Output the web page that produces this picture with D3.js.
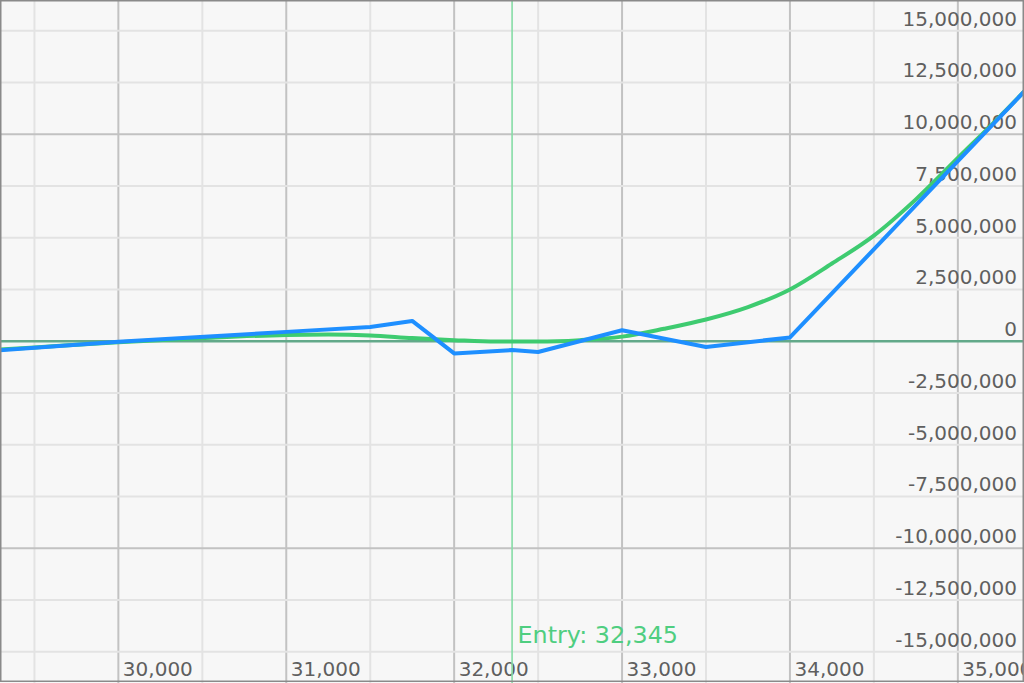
<!DOCTYPE html>
<html>
<head>
<meta charset="utf-8">
<script src="https://cdn.jsdelivr.net/npm/d3@7"></script>
<style>
html,body{margin:0;padding:0;background:#f7f7f7;overflow:hidden;}
svg{display:block;}
text{font-family:"DejaVu Sans",Verdana,sans-serif;}
</style>
</head>
<body>
<svg id="chart" width="1024" height="683"></svg>
<script>
// ---- data ----
const xTicks = [29500, 30000, 30500, 31000, 31500, 32000, 32500, 33000, 33500, 34000, 34500, 35000];
const xLabelTicks = [30000, 31000, 32000, 33000, 34000, 35000];
const yTicks = [-15000000, -12500000, -10000000, -7500000, -5000000, -2500000, 0, 2500000, 5000000, 7500000, 10000000, 12500000, 15000000];
const entryPrice = 32345;

// P&L at expiry (blue)
const expiryPrice = [29000, 30000, 31000, 31500, 31750, 32000, 32345, 32500, 33000, 33500, 34000, 35000, 35500];
const expiryPnl   = [-600000, -30000, 450000, 690000, 980000, -590000, -430000, -520000, 530000, -280000, 180000, 8700000, 12950000];

// current P&L (green)
const currentPrice = [29000, 29500, 30000, 30500, 31000, 31250, 31500, 31750, 32000, 32250, 32500, 32750, 33000, 33250, 33500, 33750, 34000, 34250, 34500, 34750, 35000, 35250, 35500];
const currentPnl   = [-550000, -300000, -50000, 150000, 300000, 320000, 280000, 150000, 50000, -20000, -20000, 50000, 220000, 600000, 1050000, 1650000, 2500000, 3750000, 5100000, 6850000, 8850000, 10850000, 12950000];

// ---- layout ----
const W = 1024, H = 683;
const svg = d3.select("#chart");
const x = d3.scaleLinear().domain([29295, 35394]).range([0, W]);
const y = d3.scaleLinear().domain([-16510000, 16480000]).range([H, 0]);

svg.append("rect").attr("width", W).attr("height", H).attr("fill", "#f7f7f7");

svg.append("clipPath").attr("id", "clip").append("rect").attr("width", W).attr("height", H);

// vertical grid
svg.append("g").selectAll("line").data(xTicks).join("line")
  .attr("x1", d => x(d)).attr("x2", d => x(d)).attr("y1", 0).attr("y2", H)
  .attr("stroke", d => d % 1000 === 0 ? "#c2c2c2" : "#e3e3e3")
  .attr("stroke-width", 2);

// horizontal grid
svg.append("g").selectAll("line").data(yTicks.filter(d => d !== 0)).join("line")
  .attr("x1", 0).attr("x2", W).attr("y1", d => y(d)).attr("y2", d => y(d))
  .attr("stroke", d => d % 10000000 === 0 ? "#c2c2c2" : "#e3e3e3")
  .attr("stroke-width", 2);

// number format with plain hyphen minus
const fmt0 = d3.format(",");
const fmt = d => fmt0(d).replace("\u2212", "-");

// y labels
svg.append("g").selectAll("text").data(yTicks).join("text")
  .attr("x", 1017).attr("y", d => y(d) - 5)
  .attr("text-anchor", "end")
  .attr("font-size", 20)
  .attr("fill", "#5f5f5f")
  .text(d => fmt(d));

// x labels
svg.append("g").selectAll("text").data(xLabelTicks).join("text")
  .attr("x", d => x(d) + 4.5).attr("y", 676)
  .attr("font-size", 20)
  .attr("fill", "#5f5f5f")
  .text(d => fmt(d));

// zero line
svg.append("line").attr("x1", 0).attr("x2", W).attr("y1", y(0)).attr("y2", y(0))
  .attr("stroke", "#63a98a").attr("stroke-width", 2.5);

// entry line
svg.append("line").attr("x1", x(entryPrice)).attr("x2", x(entryPrice)).attr("y1", 0).attr("y2", H)
  .attr("stroke", "#86dca6").attr("stroke-width", 1.6);

svg.append("text").attr("x", x(entryPrice) + 5.5).attr("y", 643)
  .attr("font-size", 23.8).attr("fill", "#4fce80")
  .text("Entry: " + fmt(entryPrice));

const g = svg.append("g").attr("clip-path", "url(#clip)");

g.append("path")
  .datum(currentPrice.map((p, i) => [p, currentPnl[i]]))
  .attr("d", d3.line().x(d => x(d[0])).y(d => y(d[1])).curve(d3.curveMonotoneX))
  .attr("fill", "none")
  .attr("stroke", "#3ecb70").attr("stroke-width", 4).attr("stroke-linejoin", "round");

g.append("path")
  .datum(expiryPrice.map((p, i) => [p, expiryPnl[i]]))
  .attr("d", d3.line().x(d => x(d[0])).y(d => y(d[1])))
  .attr("fill", "none")
  .attr("stroke", "#1e8fff").attr("stroke-width", 4).attr("stroke-linejoin", "round");

// border
svg.append("rect").attr("x", 0.75).attr("y", 0.75).attr("width", W - 1.5).attr("height", H - 2.5)
  .attr("fill", "none").attr("stroke", "#8a8a8a").attr("stroke-width", 1.5);
</script>
</body>
</html>
